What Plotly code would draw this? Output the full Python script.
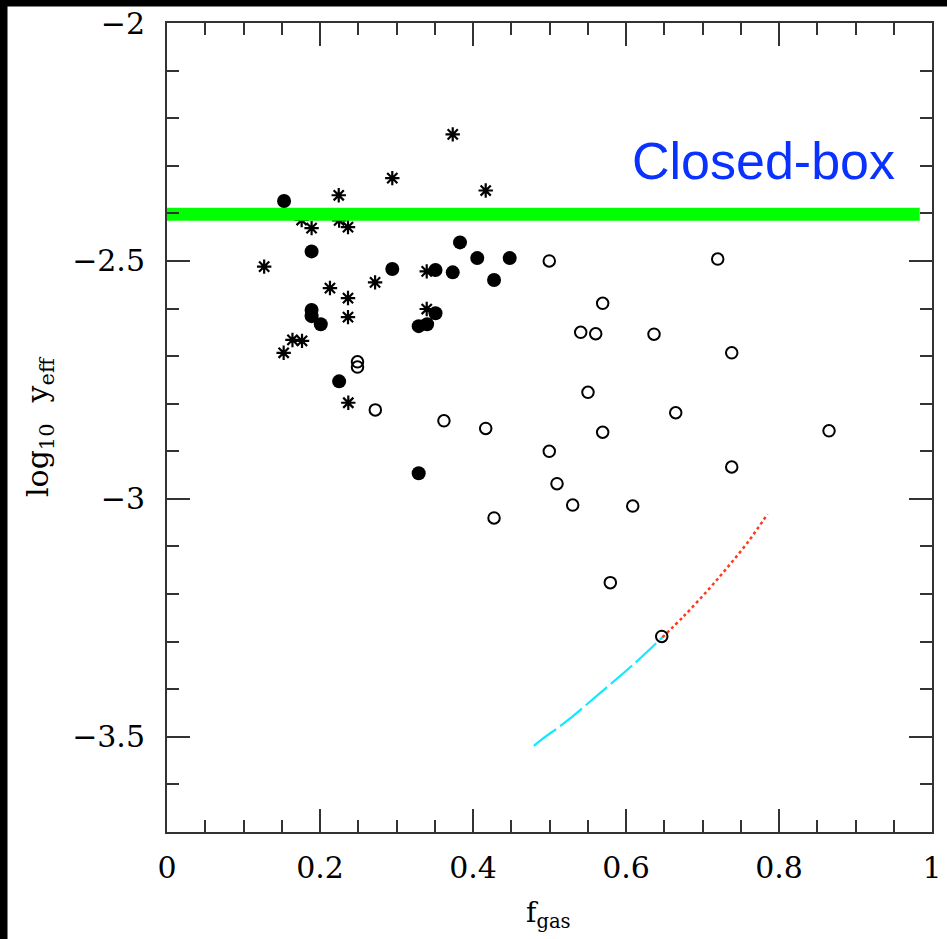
import plotly.graph_objects as go

# ---------------- data ----------------
# filled circles
filled_x = [0.153, 0.189, 0.189, 0.189, 0.201, 0.225, 0.2945, 0.329, 0.329, 0.340,
            0.351, 0.351, 0.3735, 0.383, 0.4056, 0.4275, 0.448]
filled_y = [-2.374, -2.480, -2.603, -2.616, -2.633, -2.753, -2.517, -2.946, -2.637, -2.633,
            -2.610, -2.519, -2.524, -2.461, -2.494, -2.540, -2.494]

# asterisks
star_x = [0.2245, 0.176, 0.225, 0.189, 0.2366, 0.127, 0.213, 0.2366, 0.2366, 0.164,
          0.1765, 0.1525, 0.237, 0.2945, 0.3735, 0.4166, 0.272, 0.3395, 0.3395]
star_y = [-2.362, -2.414, -2.415, -2.431, -2.429, -2.512, -2.557, -2.578, -2.618, -2.666,
          -2.668, -2.693, -2.798, -2.326, -2.234, -2.352, -2.545, -2.522, -2.601]

# open circles
open_x = [0.249, 0.249, 0.2723, 0.362, 0.4166, 0.4275, 0.4997, 0.4997, 0.5098, 0.5303,
          0.5408, 0.5604, 0.5695, 0.5503, 0.5695, 0.5795, 0.6088, 0.6366, 0.6467, 0.665,
          0.7199, 0.7382, 0.7382, 0.8654]
open_y = [-2.712, -2.723, -2.813, -2.836, -2.852, -3.040, -2.500, -2.900, -2.968, -3.013,
          -2.650, -2.653, -2.589, -2.776, -2.860, -3.176, -3.015, -2.654, -3.289, -2.819,
          -2.496, -2.693, -2.933, -2.857]

# model curves
cyan_x = [0.4795, 0.4904, 0.5232, 0.5668, 0.6103, 0.6475]
cyan_y = [-3.519, -3.505, -3.466, -3.407, -3.347, -3.291]
red_x = [0.6475, 0.6758, 0.7064, 0.7326, 0.7588, 0.7850]
red_y = [-3.291, -3.246, -3.193, -3.144, -3.092, -3.032]

# closed-box yield
closed_x = [0.0, 0.984]
closed_y = [-2.402, -2.402]
closed_label = "Closed-box"
closed_label_pos = (0.780, -2.290)

# axes
x_range = [0.0, 1.0]
y_range = [-3.7, -2.0]
x_tickvals = [0, 0.2, 0.4, 0.6, 0.8, 1.0]
x_ticktext = ["0", "0.2", "0.4", "0.6", "0.8", "1"]
y_tickvals = [-2.0, -2.5, -3.0, -3.5]
y_ticktext = ["\u22122", "\u22122.5", "\u22123", "\u22123.5"]
x_title = "f<sub>gas</sub>"
y_title = "log<sub>10</sub>\u2002\u2009y<sub>eff</sub>"

# ---------------- figure ----------------
fig = go.Figure()

fig.add_trace(go.Scatter(x=cyan_x, y=cyan_y, mode="lines", line_shape="spline",
                         line=dict(color="#10eaff", width=2.2, dash="28px,5px"),
                         showlegend=False, hoverinfo="skip"))
fig.add_trace(go.Scatter(x=red_x, y=red_y, mode="lines", line_shape="spline",
                         line=dict(color="#ff3a1a", width=2.5, dash="dot"),
                         showlegend=False, hoverinfo="skip"))

fig.add_trace(go.Scatter(x=open_x, y=open_y, mode="markers",
                         marker=dict(symbol="circle-open", size=11.5, color="black",
                                     line=dict(color="black", width=2)),
                         showlegend=False))
fig.add_trace(go.Scatter(x=star_x, y=star_y, mode="markers",
                         marker=dict(symbol="asterisk-open", size=12, color="black",
                                     line=dict(color="black", width=2.2)),
                         showlegend=False))
fig.add_trace(go.Scatter(x=closed_x, y=closed_y, mode="lines",
                         line=dict(color="#00ff00", width=13),
                         showlegend=False))
fig.add_trace(go.Scatter(x=filled_x, y=filled_y, mode="markers",
                         marker=dict(symbol="circle", size=14, color="black",
                                     line=dict(width=0)),
                         showlegend=False))

tick_font = dict(family="DejaVu Serif", size=30, color="black")
axis_common = dict(showgrid=False, zeroline=False, showline=True, linecolor="#333333",
                   linewidth=2, mirror="ticks", ticks="inside", ticklen=23,
                   tickwidth=1.6, tickcolor="#333333", tickfont=tick_font,
                   automargin=False)

fig.update_xaxes(range=x_range, tickmode="array", tickvals=x_tickvals, ticktext=x_ticktext,
                 ticklabelstandoff=8,
                 minor=dict(ticks="inside", ticklen=12, tickwidth=1.6, tickcolor="#333333",
                            tickmode="linear", tick0=0, dtick=0.05),
                 **axis_common)
fig.update_yaxes(range=y_range, tickmode="array", tickvals=y_tickvals, ticktext=y_ticktext,
                 ticklabelstandoff=14,
                 minor=dict(ticks="inside", ticklen=12, tickwidth=1.6, tickcolor="#333333",
                            tickmode="linear", tick0=-2, dtick=0.1),
                 **axis_common)

W, H = 947, 939
L, R, T, B = 167, 15, 23, 107
pw, ph = W - L - R, H - T - B

def px_to_paper_x(px):
    return (px - L) / pw

def px_to_paper_y(py):
    return (H - B - py) / ph

# black border strips along the top and the left edge (kept inside the page)
fig.add_shape(type="rect", xref="paper", yref="paper", layer="above",
              x0=px_to_paper_x(0), x1=px_to_paper_x(W),
              y0=px_to_paper_y(6.5), y1=px_to_paper_y(0),
              fillcolor="black", line=dict(width=0))
fig.add_shape(type="rect", xref="paper", yref="paper", layer="above",
              x0=px_to_paper_x(0), x1=px_to_paper_x(7.5),
              y0=px_to_paper_y(H), y1=px_to_paper_y(0),
              fillcolor="black", line=dict(width=0))

fig.add_annotation(x=closed_label_pos[0], y=closed_label_pos[1], xref="x", yref="y",
                   text=closed_label, showarrow=False, xanchor="center", yanchor="middle",
                   font=dict(family="Liberation Sans", size=52, color="#0a32ff"))

fig.add_annotation(x=px_to_paper_x(548), y=px_to_paper_y(914), xref="paper", yref="paper",
                   text=x_title, showarrow=False, xanchor="center", yanchor="middle",
                   font=dict(family="DejaVu Serif", size=28, color="black"))
fig.add_annotation(x=px_to_paper_x(39), y=px_to_paper_y(427), xref="paper", yref="paper",
                   text=y_title, showarrow=False, xanchor="center", yanchor="middle",
                   textangle=-90,
                   font=dict(family="DejaVu Serif", size=30, color="black"))

fig.update_layout(width=W, height=H, margin=dict(l=L, r=R, t=T, b=B, pad=0),
                  paper_bgcolor="white", plot_bgcolor="white", showlegend=False)

fig.write_html("out.html")
